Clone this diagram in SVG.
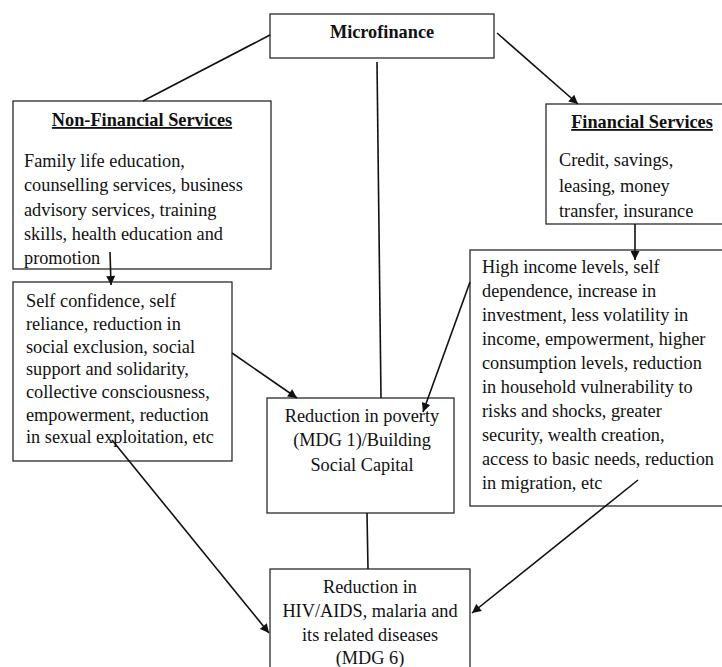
<svg xmlns="http://www.w3.org/2000/svg" width="722" height="667" viewBox="0 0 722 667">
<style>
.box{fill:#fff;stroke:#2a2a2a;stroke-width:1.3}
text{font-family:"Liberation Serif","Times New Roman",serif;font-size:18.3px;fill:#111}
.h{font-weight:bold;text-decoration:underline}
.b{font-weight:bold}
.c{text-anchor:middle}
.ln{stroke:#111;stroke-width:1.6;fill:none}
</style>
<defs>
<marker id="ah" viewBox="0 0 10 10" refX="10" refY="5" markerWidth="10" markerHeight="9" markerUnits="userSpaceOnUse" orient="auto">
<path d="M0,0 L10,5 L0,10 z" fill="#111"/>
</marker>
</defs>
<rect width="722" height="667" fill="#fff"/>
<g id="microfinance">
<rect class="box" x="270" y="14" width="224" height="44"/>
<text class="b c" x="382" y="38">Microfinance</text>
</g>
<g id="non-financial">
<rect class="box" x="13" y="101" width="258" height="168"/>
<text class="h c" x="142" y="126">Non-Financial Services</text>
<text x="24" y="167">Family life education,</text>
<text x="24" y="191">counselling services, business</text>
<text x="24" y="216">advisory services, training</text>
<text x="24" y="240">skills, health education and</text>
<text x="24" y="264">promotion</text>
</g>
<g id="financial">
<rect class="box" x="546" y="104" width="190" height="120"/>
<text class="h c" x="642" y="128">Financial Services</text>
<text x="559" y="166">Credit, savings,</text>
<text x="559" y="192">leasing, money</text>
<text x="559" y="217">transfer, insurance</text>
</g>
<g id="social-benefits">
<rect class="box" x="13" y="282" width="219" height="179"/>
<text x="26" y="307">Self confidence, self</text>
<text x="26" y="330">reliance, reduction in</text>
<text x="26" y="353">social exclusion, social</text>
<text x="26" y="375">support and solidarity,</text>
<text x="26" y="398">collective consciousness,</text>
<text x="26" y="421">empowerment, reduction</text>
<text x="26" y="443">in sexual exploitation, etc</text>
</g>
<g id="economic-benefits">
<rect class="box" x="470" y="250" width="266" height="256"/>
<text x="482" y="273">High income levels, self</text>
<text x="482" y="297">dependence, increase in</text>
<text x="482" y="321">investment, less volatility in</text>
<text x="482" y="345">income, empowerment, higher</text>
<text x="482" y="369">consumption levels, reduction</text>
<text x="482" y="393">in household vulnerability to</text>
<text x="482" y="417">risks and shocks, greater</text>
<text x="482" y="441">security, wealth creation,</text>
<text x="482" y="465">access to basic needs, reduction</text>
<text x="482" y="489">in migration, etc</text>
</g>
<g id="poverty">
<rect class="box" x="267" y="398" width="187" height="115"/>
<text class="c" x="362" y="422">Reduction in poverty</text>
<text class="c" x="362" y="446">(MDG 1)/Building</text>
<text class="c" x="362" y="471">Social Capital</text>
</g>
<g id="hiv">
<rect class="box" x="270" y="569" width="200" height="110"/>
<text class="c" x="370" y="593">Reduction in</text>
<text class="c" x="370" y="617">HIV/AIDS, malaria and</text>
<text class="c" x="370" y="641">its related diseases</text>
<text class="c" x="370" y="664">(MDG 6)</text>
</g>
<g id="connectors">
<line class="ln" x1="270" y1="35" x2="143" y2="101"/>
<line class="ln" x1="377" y1="62" x2="381" y2="398"/>
<line class="ln" x1="497" y1="33" x2="578" y2="104" marker-end="url(#ah)"/>
<line class="ln" x1="110" y1="252" x2="111" y2="285" marker-end="url(#ah)"/>
<line class="ln" x1="635" y1="224" x2="635" y2="260" marker-end="url(#ah)"/>
<line class="ln" x1="232" y1="353" x2="297" y2="398" marker-end="url(#ah)"/>
<line class="ln" x1="470" y1="282" x2="423" y2="412" marker-end="url(#ah)"/>
<line class="ln" x1="367" y1="513" x2="368" y2="569"/>
<line class="ln" x1="112" y1="440" x2="269" y2="633" marker-end="url(#ah)"/>
<line class="ln" x1="638" y1="480" x2="472" y2="613" marker-end="url(#ah)"/>
</g>
</svg>
